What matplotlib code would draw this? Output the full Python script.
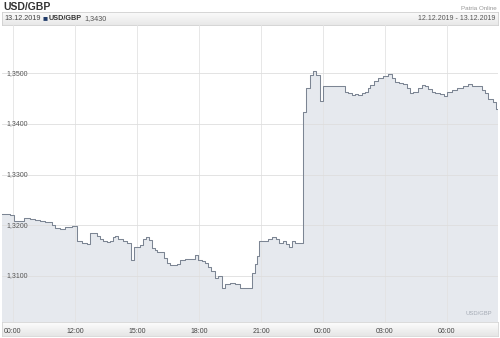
import matplotlib
matplotlib.use("Agg")
import matplotlib.pyplot as plt
import numpy as np

plt.rcParams['font.family'] = ['Liberation Sans', 'DejaVu Sans']

# time in hours from the first tick, rate USD/GBP (step data, post)
times = [-0.53, -0.15, 0.05, 0.53, 0.82, 1.06, 1.31, 1.55, 1.89, 2.03,
         2.27, 2.52, 2.85, 3.10, 3.34, 3.58, 3.73, 4.06, 4.21, 4.35,
         4.55, 4.69, 4.84, 4.94, 5.08, 5.32, 5.52, 5.71, 5.85, 6.15,
         6.29, 6.44, 6.58, 6.73, 6.87, 6.97, 7.31, 7.45, 7.60, 7.79,
         7.94, 8.08, 8.32, 8.81, 8.95, 9.15, 9.29, 9.44, 9.58, 9.77,
         9.92, 10.11, 10.26, 10.50, 10.74, 10.98, 11.56, 11.71, 11.81, 11.90,
         12.34, 12.53, 12.73, 12.87, 13.06, 13.21, 13.35, 13.50, 13.65, 14.03,
         14.18, 14.37, 14.52, 14.66, 14.85, 15.00, 16.06, 16.21, 16.40, 16.55,
         16.69, 16.89, 17.03, 17.18, 17.27, 17.47, 17.66, 17.90, 18.15, 18.34,
         18.48, 18.68, 18.87, 19.06, 19.21, 19.35, 19.60, 19.79, 19.94, 20.08,
         20.27, 20.42, 20.66, 20.85, 21.00, 21.24, 21.48, 21.77, 22.02, 22.21,
         22.40, 22.69, 22.84, 22.98, 23.23, 23.37, 23.47]
rates = [1.3222, 1.3221, 1.3208, 1.3215, 1.3213, 1.3210, 1.3208, 1.3206, 1.3201, 1.3195,
         1.3193, 1.3197, 1.3199, 1.3168, 1.3165, 1.3162, 1.3184, 1.3178, 1.3173, 1.3168,
         1.3166, 1.3168, 1.3176, 1.3178, 1.3173, 1.3168, 1.3165, 1.3132, 1.3157, 1.3160,
         1.3172, 1.3177, 1.3170, 1.3155, 1.3151, 1.3147, 1.3136, 1.3126, 1.3122, 1.3121,
         1.3124, 1.3132, 1.3134, 1.3141, 1.3132, 1.3129, 1.3126, 1.3117, 1.3109, 1.3096,
         1.3099, 1.3077, 1.3083, 1.3086, 1.3083, 1.3077, 1.3106, 1.3123, 1.3139, 1.3168,
         1.3172, 1.3176, 1.3172, 1.3165, 1.3168, 1.3162, 1.3157, 1.3168, 1.3165, 1.3424,
         1.3470, 1.3497, 1.3505, 1.3497, 1.3446, 1.3474, 1.3463, 1.3461, 1.3457, 1.3459,
         1.3457, 1.3461, 1.3463, 1.3470, 1.3477, 1.3485, 1.3490, 1.3495, 1.3498, 1.3490,
         1.3483, 1.3480, 1.3478, 1.3470, 1.3461, 1.3463, 1.3470, 1.3477, 1.3475, 1.3468,
         1.3463, 1.3461, 1.3459, 1.3455, 1.3462, 1.3467, 1.3470, 1.3474, 1.3478, 1.3475,
         1.3474, 1.3467, 1.3461, 1.3449, 1.3444, 1.3430, 1.3430]

tick_pos = [0, 3, 6, 9, 12, 15, 18, 21]
tick_labels = ["00:00", "12:00", "15:00", "18:00", "21:00", "00:00", "03:00", "06:00"]
y_ticks = [1.31, 1.32, 1.33, 1.34, 1.35]
y_labels = ["1,3100", "1,3200", "1,3300", "1,3400", "1,3500"]

W, H = 500, 338
fig = plt.figure(figsize=(W / 100, H / 100), dpi=100)
fig.patch.set_facecolor("white")

def fx(px):
    return px / W

def fy(py):
    return 1 - py / H

# title and source
fig.text(fx(3), fy(7), "USD/GBP", fontsize=7.5, fontweight="bold", color="#333333", va="center")
fig.text(fx(497), fy(9), "Patria Online", fontsize=4.5, color="#999999", va="center", ha="right")

# header bar with gradient
grad = np.linspace(1, 0, 50).reshape(-1, 1)
hb = fig.add_axes([fx(2), fy(25), fx(496), (25 - 12) / H])
hb.imshow(grad, aspect="auto", cmap=matplotlib.colors.LinearSegmentedColormap.from_list("g", ["#e8e8e8", "#fbfbfb"]),
          extent=[0, 1, 0, 1])
hb.set_xticks([]); hb.set_yticks([])
for s in hb.spines.values():
    s.set_color("#cfcfcf"); s.set_linewidth(0.6)
t1 = hb.text(0.004, 0.5, "13.12.2019", fontsize=5.2, color="#444444", va="center", transform=hb.transAxes)
t2 = hb.annotate("\u25a0", xy=(1, 0.5), xycoords=t1, xytext=(1.5, 0), textcoords="offset points",
                 fontsize=6, color="#1f3a68", va="center")
t3 = hb.annotate("USD/GBP", xy=(1, 0.5), xycoords=t2, xytext=(1, 0), textcoords="offset points",
                 fontsize=5.2, fontweight="bold", color="#333333", va="center")
hb.annotate("1,3430", xy=(1, 0.5), xycoords=t3, xytext=(2, 0), textcoords="offset points",
            fontsize=5.2, color="#555555", va="center")
hb.text(0.995, 0.5, "12.12.2019 - 13.12.2019", fontsize=5, color="#555555", va="center", ha="right",
        transform=hb.transAxes)

# bottom axis bar
bb = fig.add_axes([fx(2), fy(336), fx(496), (336 - 322) / H], zorder=0)
bb.imshow(grad, aspect="auto", cmap=matplotlib.colors.LinearSegmentedColormap.from_list("g2", ["#e6e6e6", "#fdfdfd"]),
          extent=[0, 1, 0, 1])
bb.set_xticks([]); bb.set_yticks([])
for s in bb.spines.values():
    s.set_color("#d5d5d5"); s.set_linewidth(0.6)

# main plot
ax = fig.add_axes([fx(2), fy(322), fx(496), (322 - 25) / H], zorder=1)
ax.set_facecolor("white")
ax.patch.set_alpha(0)
x0 = -0.53
x1 = x0 + 496 * 3 / 62
ax.set_xlim(x0, x1)
ax.set_ylim(1.3009, 1.3595)

ax.fill_between(times, rates, 1.3009, step="post", color="#e6e9ee", linewidth=0, zorder=1)
ax.step(times, rates, where="post", color="#7c8593", linewidth=0.75, zorder=3)

for t in tick_pos:
    ax.axvline(t, color="#e3e3e3", linewidth=0.6, zorder=2)
for v in y_ticks:
    ax.axhline(v, color="#dedede", linewidth=0.6, zorder=2)
for v, lab in zip(y_ticks, y_labels):
    ax.text(x0 + 0.2, v, lab, fontsize=5, color="#555555", va="center", ha="left", zorder=4)

ax.set_xticks(tick_pos)
ax.set_xticklabels(tick_labels, fontsize=5, color="#444444")
ax.tick_params(axis="x", length=0, pad=4)
ax.set_yticks([])
for s in ax.spines.values():
    s.set_visible(False)

ax.text(0.987, 0.02, "USD/GBP", fontsize=4.2, color="#a5abb5", ha="right", va="bottom",
        transform=ax.transAxes, zorder=4)

fig.savefig("out.png", dpi=100)
